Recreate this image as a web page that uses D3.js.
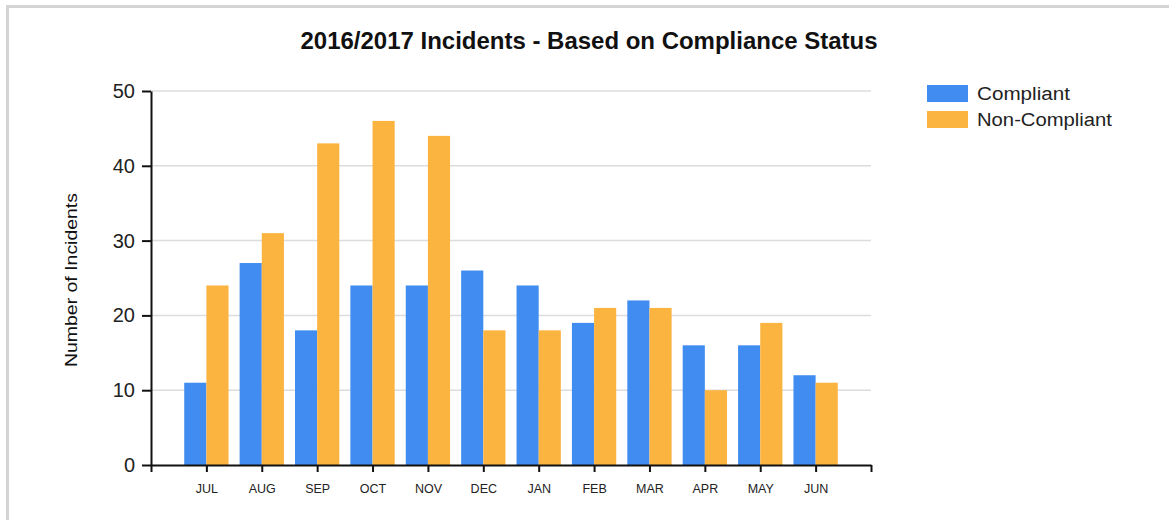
<!DOCTYPE html>
<html lang="en">
<head>
  <meta charset="UTF-8">
  <title>2016/2017 Incidents</title>
  <script src="https://d3js.org/d3.v7.min.js"></script>
  <style>
    body { margin: 0; background: #fff; }
    svg { font-family: Arial, "Liberation Sans", sans-serif; display: block; }
  </style>
</head>
<body>
  <div id="chart"></div>
  <script>
    // data
    const months = ["JUL","AUG","SEP","OCT","NOV","DEC","JAN","FEB","MAR","APR","MAY","JUN"]
    const compliant = [11, 27, 18, 24, 24, 26, 24, 19, 22, 16, 16, 12]
    const nonCompliant = [24, 31, 43, 46, 44, 18, 18, 21, 21, 10, 19, 11]
    const seriesNames = ["Compliant", "Non-Compliant"]
    const yTicks = [0, 10, 20, 30, 40, 50]

    const width = 1169, height = 520
    const colors = ["#418CF0", "#FCB441"]
    const plot = {left: 151, right: 871, top: 91, bottom: 465}

    const svg = d3.select("#chart").append("svg")
      .attr("width", width)
      .attr("height", height)

    // outer frame (only top and left edges visible in the shot)
    svg.append("rect")
      .attr("x", 7.5).attr("y", 6.5)
      .attr("width", width + 20).attr("height", height + 20)
      .attr("fill", "none")
      .attr("stroke", "#d4d4d4")
      .attr("stroke-width", 3)

    // x is a linear axis 0..13 with months at 1..12
    const x = d3.scaleLinear().domain([0, months.length + 1]).range([plot.left, plot.right])
    const y = d3.scaleLinear().domain([0, 50]).range([plot.bottom, plot.top])
    const step = x(1) - x(0)
    const barW = step * 0.8 / 2

    // gridlines
    svg.append("g")
      .selectAll("line")
      .data(yTicks.filter(d => d > 0))
      .join("line")
      .attr("x1", plot.left).attr("x2", plot.right)
      .attr("y1", d => y(d)).attr("y2", d => y(d))
      .attr("stroke", "#dcdcdc")
      .attr("stroke-width", 1.5)

    // bars
    const series = [compliant, nonCompliant]
    series.forEach((vals, s) => {
      svg.append("g")
        .selectAll("rect")
        .data(vals)
        .join("rect")
        .attr("x", (d, i) => x(i + 1) - barW + s * barW)
        .attr("y", d => y(d))
        .attr("width", barW)
        .attr("height", d => y(0) - y(d))
        .attr("fill", colors[s])
    })

    // y axis
    const yAxis = svg.append("g")
      .attr("transform", `translate(${plot.left},0)`)
      .call(d3.axisLeft(y).tickValues(yTicks).tickSize(9).tickSizeOuter(0).tickPadding(7))
    yAxis.select(".domain").attr("stroke", "#111").attr("stroke-width", 2)
    yAxis.selectAll(".tick line").attr("stroke", "#111").attr("stroke-width", 2)
    yAxis.selectAll(".tick text")
      .attr("fill", "#222")
      .style("font-size", "20px")

    // x axis
    const xAxis = svg.append("g")
      .attr("transform", `translate(0,${plot.bottom})`)
      .call(d3.axisBottom(x)
        .tickValues(d3.range(0, months.length + 2))
        .tickFormat(d => months[d - 1] || "")
        .tickSize(7).tickSizeOuter(0).tickPadding(12))
    xAxis.select(".domain").attr("stroke", "#111").attr("stroke-width", 2)
    xAxis.selectAll(".tick line").attr("stroke", "#111").attr("stroke-width", 2)
    xAxis.selectAll(".tick text")
      .attr("fill", "#222")
      .style("font-size", "12.5px")

    // y axis title
    svg.append("text")
      .attr("transform", `translate(77,280) rotate(-90)`)
      .attr("text-anchor", "middle")
      .style("font-size", "17px")
      .attr("textLength", 174)
      .attr("lengthAdjust", "spacingAndGlyphs")
      .attr("fill", "#111")
      .text("Number of Incidents")

    // chart title
    svg.append("text")
      .attr("x", 589).attr("y", 49)
      .attr("text-anchor", "middle")
      .style("font-size", "23px")
      .style("font-weight", "bold")
      .attr("textLength", 577)
      .attr("lengthAdjust", "spacingAndGlyphs")
      .attr("fill", "#111")
      .text("2016/2017 Incidents - Based on Compliance Status")

    // legend
    const legendWidths = [93, 135]
    const legend = svg.append("g").attr("transform", "translate(927,85)")
    seriesNames.forEach((name, i) => {
      legend.append("rect")
        .attr("x", 0).attr("y", i * 26)
        .attr("width", 41).attr("height", 17)
        .attr("fill", colors[i])
      legend.append("text")
        .attr("x", 50).attr("y", i * 26 + 15)
        .style("font-size", "18px")
        .attr("textLength", legendWidths[i])
        .attr("lengthAdjust", "spacingAndGlyphs")
        .attr("fill", "#222")
        .text(name)
    })
  </script>
</body>
</html>
